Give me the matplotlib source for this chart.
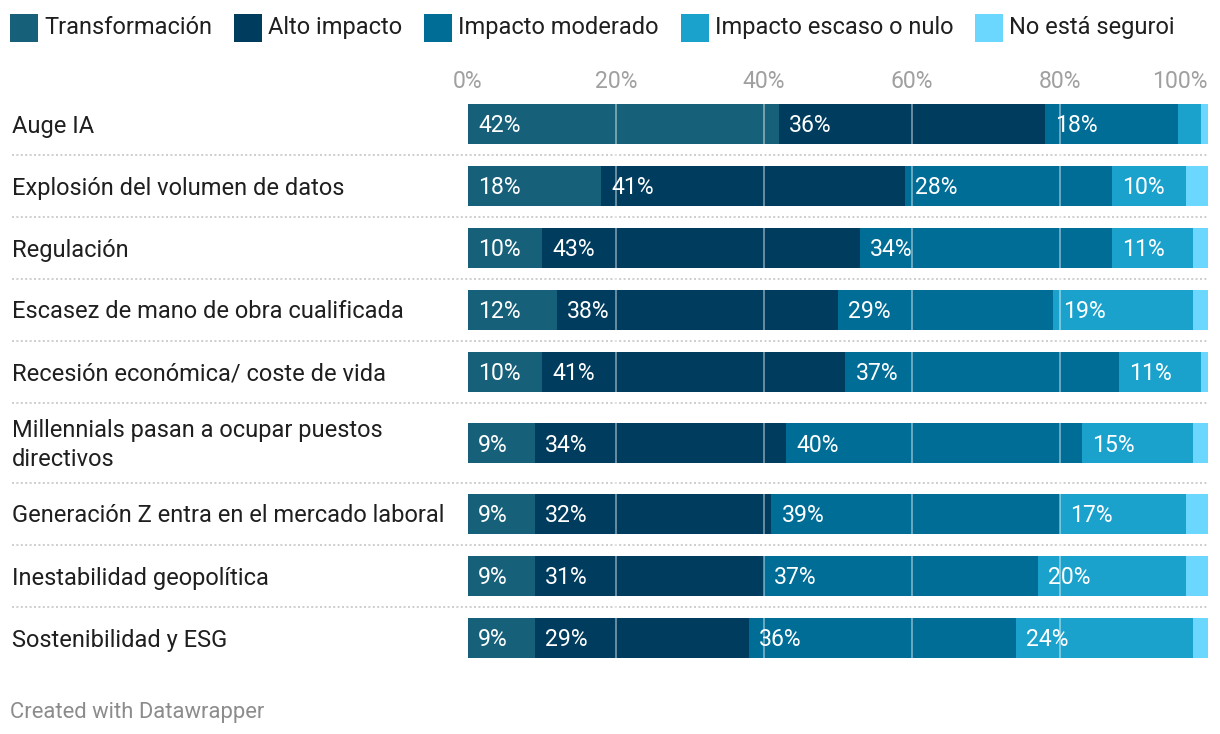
import matplotlib
matplotlib.use("Agg")
import matplotlib.pyplot as plt
from matplotlib.transforms import blended_transform_factory
from matplotlib.patches import Rectangle

# ---------------- data ----------------
categories = [
    "Auge IA",
    "Explosión del volumen de datos",
    "Regulación",
    "Escasez de mano de obra cualificada",
    "Recesión económica/ coste de vida",
    "Millennials pasan a ocupar puestos\ndirectivos",
    "Generación Z entra en el mercado laboral",
    "Inestabilidad geopolítica",
    "Sostenibilidad y ESG",
]
series_names = ["Transformación", "Alto impacto", "Impacto moderado",
                "Impacto escaso o nulo", "No está seguroi"]
transformacion = [42, 18, 10, 12, 10, 9, 9, 9, 9]
alto_impacto = [36, 41, 43, 38, 41, 34, 32, 31, 29]
impacto_moderado = [18, 28, 34, 29, 37, 40, 39, 37, 36]
impacto_escaso = [3, 10, 11, 19, 11, 15, 17, 20, 24]
no_seguro = [1, 3, 2, 2, 1, 2, 3, 3, 2]
tick_values = [0, 20, 40, 60, 80, 100]
tick_labels = ["0%", "20%", "40%", "60%", "80%", "100%"]

series = [transformacion, alto_impacto, impacto_moderado, impacto_escaso, no_seguro]
colors = ["#176079", "#003c5e", "#006d97", "#1aa2cd", "#6bd7fe"]

# ---------------- layout ----------------
W, H = 1220, 734
PT = 0.72  # px -> pt at dpi 100
FONT = "Roboto"
plt.rcParams["font.family"] = [FONT, "DejaVu Sans"]
FS_MAIN = 23.6 * PT
FS_VAL = 23 * PT

fig = plt.figure(figsize=(W / 100, H / 100), dpi=100)
fig.patch.set_facecolor("white")
ax = fig.add_axes([468 / W, 0, 740 / W, 1])
ax.set_xlim(0, 100)
ax.set_ylim(H, 0)
ax.axis("off")

trans_lab = blended_transform_factory(fig.transFigure, ax.transData)

# row geometry
row_top = 93
single_h, double_h = 62, 80
centers, seps = [], []
y = row_top
for i, c in enumerate(categories):
    h = double_h if "\n" in c else single_h
    centers.append(y + h / 2)
    y += h
    if i < len(categories) - 1:
        seps.append(y)
bar_h = 40
cap_half = 8.5

# bars
lefts = [0] * len(categories)
for s_idx, vals in enumerate(series):
    ax.barh(centers, vals, left=lefts, height=bar_h, color=colors[s_idx],
            linewidth=0, zorder=2)
    for i, v in enumerate(vals):
        if v >= 8:
            ax.annotate(f"{v}%", xy=(lefts[i], centers[i] + cap_half),
                        xytext=(10 * PT, 0), textcoords="offset points",
                        ha="left", va="baseline", color="white",
                        fontsize=FS_VAL, zorder=5)
    lefts = [l + v for l, v in zip(lefts, vals)]

# gridlines on top of bars
ax.vlines([20, 40, 60, 80], row_top + 5, y - 5, colors="white", alpha=0.4,
          linewidth=2 * PT, zorder=4)

# tick labels
for v, lab in zip(tick_values, tick_labels):
    ha = "right" if v == tick_values[-1] else "center"
    ax.text(v, 88, lab, ha=ha, va="baseline", color="#a0a0a0",
            fontsize=FS_VAL)

# separators
for sy in seps:
    ax.plot([12 / W, 1208 / W], [sy, sy], transform=trans_lab, clip_on=False,
            color="#cfcfcf", linewidth=2 * PT, linestyle=(0, (1, 1.2)),
            zorder=1)

# category labels
for c, cy in zip(categories, centers):
    lines = c.split("\n")
    n = len(lines)
    for k, line in enumerate(lines):
        by = cy + cap_half - (n - 1) * 15 + k * 30
        ax.text(12 / W, by, line, transform=trans_lab, ha="left",
                va="baseline", color="#1f1f1f", fontsize=FS_MAIN)

# legend
fig.canvas.draw()
renderer = fig.canvas.get_renderer()
x = 10
for name, col in zip(series_names, colors):
    fig.add_artist(Rectangle((x / W, 1 - 42 / H), 28 / W, 28 / H,
                             transform=fig.transFigure, facecolor=col,
                             edgecolor="none"))
    t = fig.text((x + 34) / W, 1 - 34 / H, name, ha="left", va="baseline",
                 color="#1f1f1f", fontsize=FS_MAIN)
    wpx = t.get_window_extent(renderer).width
    x = x + 34 + wpx + 22

# footer
fig.text(10 / W, 1 - 718 / H, "Created with Datawrapper", ha="left",
         va="baseline", color="#8c8c8c", fontsize=22 * PT)

fig.savefig("out.png", dpi=100, facecolor="white")
